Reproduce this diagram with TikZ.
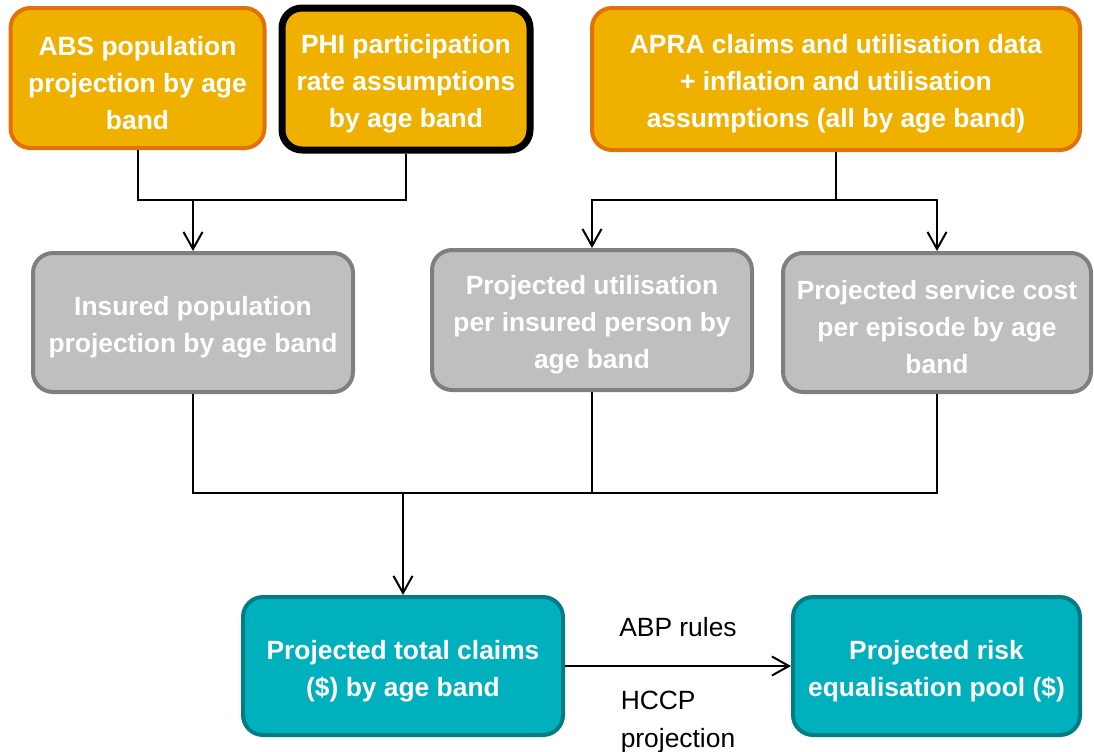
\documentclass[tikz,border=0pt]{standalone}
\usepackage{fontspec}
\setmainfont{Liberation Sans}
\usetikzlibrary{arrows.meta, positioning}

\definecolor{srcfill}{RGB}{240,176,0}
\definecolor{srcline}{RGB}{228,112,10}
\definecolor{midfill}{RGB}{191,191,191}
\definecolor{midline}{RGB}{127,127,127}
\definecolor{outfill}{RGB}{0,176,188}
\definecolor{outline}{RGB}{0,124,132}

% pushes box text a little lower
\newcommand{\topgap}{\rule{0pt}{14.5pt}}

\begin{document}
\begin{tikzpicture}[x=0.5pt, y=-0.5pt,
  box/.style={rounded corners=10pt, align=center, text=white,
              font=\fontsize{13.2}{18.5}\selectfont\bfseries, line width=2pt},
  srcbox/.style={box, draw=srcline, fill=srcfill},
  midbox/.style={box, draw=midline, fill=midfill},
  outbox/.style={box, draw=outline, fill=outfill},
  conn/.style={line width=1pt},
  arr/.style={-{Straight Barb[length=8.5pt, width=9.5pt, line width=1pt]}, line width=1pt},
  lbl/.style={font=\fontsize{13.2}{19}\selectfont}
]
\useasboundingbox (0,0) rectangle (1094,751);

\node[srcbox, minimum width=127pt, minimum height=70pt] (abs) at (137.5,78)
  {\topgap ABS population\\projection by age\\band};
\node[srcbox, draw=black, line width=3.5pt, minimum width=124pt, minimum height=71pt] (phi) at (406,79)
  {\topgap PHI participation\\rate assumptions\\by age band};
\node[srcbox, minimum width=244pt, minimum height=71pt] (apra) at (836,79)
  {\topgap APRA claims and utilisation data\\+ inflation and utilisation\\assumptions (all by age band)};

\node[midbox, minimum width=160pt, minimum height=69.5pt] (ins) at (193,322.5)
  {\topgap Insured population\\projection by age band};
\node[midbox, minimum width=160pt, minimum height=70pt] (util) at (592,320)
  {\topgap Projected utilisation\\per insured person by\\age band};
\node[midbox, minimum width=154pt, minimum height=69.5pt] (cost) at (937,322.5)
  {\topgap Projected service cost\\per episode by age\\band};

\node[outbox, minimum width=160pt, minimum height=69pt] (tot) at (403,666)
  {\topgap Projected total claims\\(\$) by age band};
\node[outbox, minimum width=143.5pt, minimum height=69pt] (pool) at (936.5,666)
  {\topgap Projected risk\\equalisation pool (\$)};

% inputs
\coordinate (j1) at (193,200);
\coordinate (j2) at (836,200);
\draw[conn] (abs.south) |- (j1) -| (phi.south);
\draw[arr] (j1) -- (ins.north);
\draw[conn] (apra.south) -- (j2);
\draw[arr] (j2) -| (util.north);
\draw[arr] (j2) -| (cost.north);

% projections
\coordinate (j3) at (403,493);
\draw[conn] (ins.south) |- (cost.south |- j3) -- (cost.south);
\draw[conn] (util.south) -- (util.south |- j3) -- (j3);
\draw[arr] (j3) -- (tot.north);

\draw[arr] (tot) -- node[lbl, above=11pt]{ABP rules}
  node[lbl, below=8.5pt, align=left]{HCCP\\projection} (pool);
\end{tikzpicture}
\end{document}
